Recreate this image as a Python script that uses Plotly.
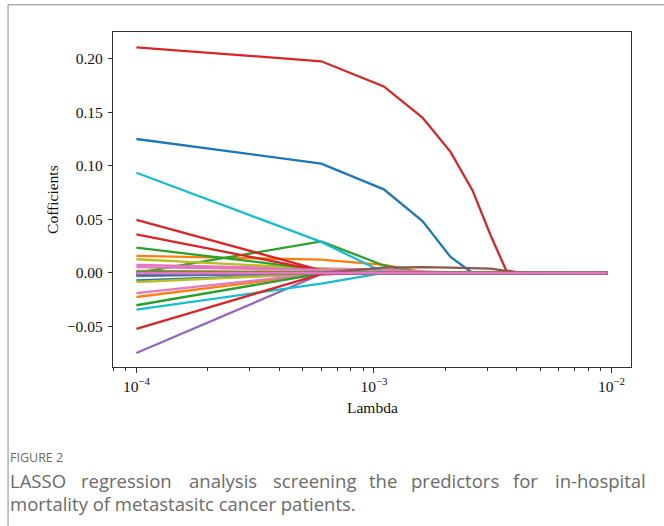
import plotly.graph_objects as go

# ---------------- data ----------------
lambdas = [0.0001, 0.0006, 0.0011, 0.0016, 0.0021, 0.0026, 0.0031, 0.0036, 0.0041, 0.0046,
           0.0051, 0.0056, 0.0061, 0.0066, 0.0071, 0.0076, 0.0081, 0.0086, 0.0091, 0.0096]

f00 = [0.125, 0.102, 0.078, 0.0485, 0.015, 0.0, 0.0, 0.0, 0.0, 0.0, 0.0, 0.0, 0.0, 0.0, 0.0, 0.0, 0.0, 0.0, 0.0, 0.0]
f01 = [0.0159, 0.0125, 0.0075, 0.001, 0.0, 0.0, 0.0, 0.0, 0.0, 0.0, 0.0, 0.0, 0.0, 0.0, 0.0, 0.0, 0.0, 0.0, 0.0, 0.0]
f02 = [0.0, 0.0295, 0.007, 0.0, 0.0, 0.0, 0.0, 0.0, 0.0, 0.0, 0.0, 0.0, 0.0, 0.0, 0.0, 0.0, 0.0, 0.0, 0.0, 0.0]
f03 = [0.2105, 0.1975, 0.174, 0.145, 0.113, 0.077, 0.035, 0.0025, 0.0, 0.0, 0.0, 0.0, 0.0, 0.0, 0.0, 0.0, 0.0, 0.0, 0.0, 0.0]
f04 = [-0.0746, -0.001, 0.0, 0.0, 0.0, 0.0, 0.0, 0.0, 0.0, 0.0, 0.0, 0.0, 0.0, 0.0, 0.0, 0.0, 0.0, 0.0, 0.0, 0.0]
f05 = [0.0005, 0.0, 0.0, 0.0, 0.0, 0.0, 0.0, 0.0, 0.0, 0.0, 0.0, 0.0, 0.0, 0.0, 0.0, 0.0, 0.0, 0.0, 0.0, 0.0]
f06 = [0.0075, 0.0045, 0.003, 0.0015, 0.0005, 0.0, 0.0, 0.0, 0.0, 0.0, 0.0, 0.0, 0.0, 0.0, 0.0, 0.0, 0.0, 0.0, 0.0, 0.0]
f07 = [0.001, 0.0, 0.0, 0.0, 0.0, 0.0, 0.0, 0.0, 0.0, 0.0, 0.0, 0.0, 0.0, 0.0, 0.0, 0.0, 0.0, 0.0, 0.0, 0.0]
f08 = [0.0128, 0.004, 0.0, 0.0, 0.0, 0.0, 0.0, 0.0, 0.0, 0.0, 0.0, 0.0, 0.0, 0.0, 0.0, 0.0, 0.0, 0.0, 0.0, 0.0]
f09 = [0.0935, 0.029, 0.0005, 0.0, 0.0, 0.0, 0.0, 0.0, 0.0, 0.0, 0.0, 0.0, 0.0, 0.0, 0.0, 0.0, 0.0, 0.0, 0.0, 0.0]
f10 = [-0.0068, -0.001, 0.0, 0.0, 0.0, 0.0, 0.0, 0.0, 0.0, 0.0, 0.0, 0.0, 0.0, 0.0, 0.0, 0.0, 0.0, 0.0, 0.0, 0.0]
f11 = [-0.0224, -0.001, 0.0, 0.0, 0.0, 0.0, 0.0, 0.0, 0.0, 0.0, 0.0, 0.0, 0.0, 0.0, 0.0, 0.0, 0.0, 0.0, 0.0, 0.0]
f12 = [0.0237, 0.003, 0.0, 0.0, 0.0, 0.0, 0.0, 0.0, 0.0, 0.0, 0.0, 0.0, 0.0, 0.0, 0.0, 0.0, 0.0, 0.0, 0.0, 0.0]
f13 = [0.0495, 0.0025, 0.0, 0.0, 0.0, 0.0, 0.0, 0.0, 0.0, 0.0, 0.0, 0.0, 0.0, 0.0, 0.0, 0.0, 0.0, 0.0, 0.0, 0.0]
f14 = [-0.001, 0.0, 0.0, 0.0, 0.0, 0.0, 0.0, 0.0, 0.0, 0.0, 0.0, 0.0, 0.0, 0.0, 0.0, 0.0, 0.0, 0.0, 0.0, 0.0]
f15 = [-0.0015, 0.0, 0.0, 0.0, 0.0, 0.0, 0.0, 0.0, 0.0, 0.0, 0.0, 0.0, 0.0, 0.0, 0.0, 0.0, 0.0, 0.0, 0.0, 0.0]
f16 = [-0.0187, -0.0005, 0.0, 0.0, 0.0, 0.0, 0.0, 0.0, 0.0, 0.0, 0.0, 0.0, 0.0, 0.0, 0.0, 0.0, 0.0, 0.0, 0.0, 0.0]
f17 = [-0.003, 0.0, 0.0, 0.0, 0.0, 0.0, 0.0, 0.0, 0.0, 0.0, 0.0, 0.0, 0.0, 0.0, 0.0, 0.0, 0.0, 0.0, 0.0, 0.0]
f18 = [-0.0084, -0.0005, 0.0, 0.0, 0.0, 0.0, 0.0, 0.0, 0.0, 0.0, 0.0, 0.0, 0.0, 0.0, 0.0, 0.0, 0.0, 0.0, 0.0, 0.0]
f19 = [-0.0342, -0.0099, 0.0, 0.0, 0.0, 0.0, 0.0, 0.0, 0.0, 0.0, 0.0, 0.0, 0.0, 0.0, 0.0, 0.0, 0.0, 0.0, 0.0, 0.0]
f20 = [-0.002, 0.0, 0.0, 0.0, 0.0, 0.0, 0.0, 0.0, 0.0, 0.0, 0.0, 0.0, 0.0, 0.0, 0.0, 0.0, 0.0, 0.0, 0.0, 0.0]
f21 = [0.002, 0.001, 0.0, 0.0, 0.0, 0.0, 0.0, 0.0, 0.0, 0.0, 0.0, 0.0, 0.0, 0.0, 0.0, 0.0, 0.0, 0.0, 0.0, 0.0]
f22 = [-0.0301, -0.0005, 0.0, 0.0, 0.0, 0.0, 0.0, 0.0, 0.0, 0.0, 0.0, 0.0, 0.0, 0.0, 0.0, 0.0, 0.0, 0.0, 0.0, 0.0]
f23 = [0.0361, 0.002, 0.0, 0.0, 0.0, 0.0, 0.0, 0.0, 0.0, 0.0, 0.0, 0.0, 0.0, 0.0, 0.0, 0.0, 0.0, 0.0, 0.0, 0.0]
f24 = [0.0005, 0.0, 0.0, 0.0, 0.0, 0.0, 0.0, 0.0, 0.0, 0.0, 0.0, 0.0, 0.0, 0.0, 0.0, 0.0, 0.0, 0.0, 0.0, 0.0]
f25 = [0.0, 0.0, 0.0, 0.0, 0.0, 0.0, 0.0, 0.0, 0.0, 0.0, 0.0, 0.0, 0.0, 0.0, 0.0, 0.0, 0.0, 0.0, 0.0, 0.0]
f26 = [0.0055, 0.003, 0.001, 0.0, 0.0, 0.0, 0.0, 0.0, 0.0, 0.0, 0.0, 0.0, 0.0, 0.0, 0.0, 0.0, 0.0, 0.0, 0.0, 0.0]
f27 = [0.0, 0.0, 0.0, 0.0, 0.0, 0.0, 0.0, 0.0, 0.0, 0.0, 0.0, 0.0, 0.0, 0.0, 0.0, 0.0, 0.0, 0.0, 0.0, 0.0]
f28 = [0.0, 0.0, 0.0, 0.0, 0.0, 0.0, 0.0, 0.0, 0.0, 0.0, 0.0, 0.0, 0.0, 0.0, 0.0, 0.0, 0.0, 0.0, 0.0, 0.0]
f29 = [0.001, 0.0, 0.0, 0.0, 0.0, 0.0, 0.0, 0.0, 0.0, 0.0, 0.0, 0.0, 0.0, 0.0, 0.0, 0.0, 0.0, 0.0, 0.0, 0.0]
f30 = [0.0, 0.0, 0.0, 0.0, 0.0, 0.0, 0.0, 0.0, 0.0, 0.0, 0.0, 0.0, 0.0, 0.0, 0.0, 0.0, 0.0, 0.0, 0.0, 0.0]
f31 = [0.0005, 0.0, 0.0, 0.0, 0.0, 0.0, 0.0, 0.0, 0.0, 0.0, 0.0, 0.0, 0.0, 0.0, 0.0, 0.0, 0.0, 0.0, 0.0, 0.0]
f32 = [0.0012, 0.0, 0.0, 0.0, 0.0, 0.0, 0.0, 0.0, 0.0, 0.0, 0.0, 0.0, 0.0, 0.0, 0.0, 0.0, 0.0, 0.0, 0.0, 0.0]
f33 = [-0.0522, -0.001, 0.0, 0.0, 0.0, 0.0, 0.0, 0.0, 0.0, 0.0, 0.0, 0.0, 0.0, 0.0, 0.0, 0.0, 0.0, 0.0, 0.0, 0.0]
f34 = [-0.0005, 0.0, 0.0, 0.0, 0.0, 0.0, 0.0, 0.0, 0.0, 0.0, 0.0, 0.0, 0.0, 0.0, 0.0, 0.0, 0.0, 0.0, 0.0, 0.0]
f35 = [0.0, 0.0, 0.005, 0.0055, 0.005, 0.0045, 0.004, 0.002, 0.0, 0.0, 0.0, 0.0, 0.0, 0.0, 0.0, 0.0, 0.0, 0.0, 0.0, 0.0]
f36 = [0.0, 0.0, 0.0, 0.0, 0.0, 0.0, 0.0, 0.0, 0.0, 0.0, 0.0, 0.0, 0.0, 0.0, 0.0, 0.0, 0.0, 0.0, 0.0, 0.0]

x_tick_vals = [1e-4, 1e-3, 1e-2]
x_tick_text = ["10<sup>\u22124</sup>", "10<sup>\u22123</sup>", "10<sup>\u22122</sup>"]
x_minor_vals = [8e-5, 9e-5, 2e-4, 3e-4, 4e-4, 5e-4, 6e-4, 7e-4, 8e-4, 9e-4,
                2e-3, 3e-3, 4e-3, 5e-3, 6e-3, 7e-3, 8e-3, 9e-3]
y_tick_vals = [-0.05, 0.0, 0.05, 0.10, 0.15, 0.20]
y_tick_text = ["\u22120.05", "0.00", "0.05", "0.10", "0.15", "0.20"]

caption_words = ["LASSO", "regression", "analysis", "screening", "the", "predictors", "for", "in-hospital"]
caption_line2 = "mortality of metastasitc cancer patients."
figure_label = "FIGURE 2"

# ---------------- styling ----------------
palette = ["#1f77b4", "#ff7f0e", "#2ca02c", "#d62728", "#9467bd",
           "#8c564b", "#e377c2", "#7f7f7f", "#bcbd22", "#17becf"]
paths = [f00, f01, f02, f03, f04, f05, f06, f07, f08, f09,
         f10, f11, f12, f13, f14, f15, f16, f17, f18, f19,
         f20, f21, f22, f23, f24, f25, f26, f27, f28, f29,
         f30, f31, f32, f33, f34, f35, f36]

W, H = 664, 526
L_PX, R_PX, T_PX, B_PX = 113.3, 630.7, 31.7, 366.7


def px(xp):
    return (xp - L_PX) / (R_PX - L_PX)


def py(yp):
    return (B_PX - yp) / (B_PX - T_PX)


fig = go.Figure()
for i, vals in enumerate(paths):
    fig.add_trace(go.Scatter(
        x=lambdas, y=vals, mode="lines",
        line=dict(color=palette[i % 10], width=2.3),
        showlegend=False, hoverinfo="skip"))

serif = "Liberation Serif, Times New Roman, serif"
sans = "Open Sans, sans-serif"
axis_common = dict(showline=True, linecolor="#333333", linewidth=1.3, mirror=True,
                   showgrid=False, zeroline=False, ticks="outside", tickcolor="#333333",
                   tickfont=dict(family=serif, size=15.5, color="#111111"))

fig.update_layout(
    width=W, height=H,
    margin=dict(l=L_PX, r=W - R_PX, t=T_PX, b=H - B_PX, pad=0),
    paper_bgcolor="white", plot_bgcolor="white",
    font=dict(family=serif, size=15, color="#111111"),
    xaxis=dict(type="log", range=[-4.0985, -1.918],
               tickmode="array", tickvals=x_tick_vals, ticktext=x_tick_text,
               ticklen=5, tickwidth=1.2,
               minor=dict(tickmode="array", tickvals=x_minor_vals, ticks="outside",
                          ticklen=3, tickwidth=1, tickcolor="#333333"),
               **axis_common),
    yaxis=dict(range=[-0.0877, 0.2248], tickmode="array",
               tickvals=y_tick_vals, ticktext=y_tick_text,
               ticklen=4, tickwidth=1.2, ticklabelstandoff=2, **axis_common),
)

annotations = [
    dict(text="Lambda", x=0.5, y=py(407), xref="paper", yref="paper",
         showarrow=False, xanchor="center", yanchor="middle",
         font=dict(family=serif, size=15.5, color="#111111")),
    dict(text="Cofficients", x=px(53), y=py(199), xref="paper", yref="paper",
         showarrow=False, xanchor="center", yanchor="middle", textangle=-90,
         font=dict(family=serif, size=15.5, color="#111111")),
    dict(text=figure_label, x=px(8), y=py(457), xref="paper", yref="paper",
         showarrow=False, xanchor="left", yanchor="middle",
         font=dict(family=sans, size=12.5, color="#6a6a6a")),
    dict(text=caption_line2, x=px(8), y=py(503), xref="paper", yref="paper",
         showarrow=False, xanchor="left", yanchor="middle",
         font=dict(family=sans, size=18.5, color="#6a6a6a")),
]
word_left = [8, 79, 187, 271, 367, 409, 511, 553]
for w, xl in zip(caption_words, word_left):
    annotations.append(dict(text=w, x=px(xl), y=py(480), xref="paper", yref="paper",
                            showarrow=False, xanchor="left", yanchor="middle",
                            font=dict(family=sans, size=18.5, color="#6a6a6a")))
fig.update_layout(annotations=annotations)

# card border (top and left edges)
fig.add_shape(type="line", xref="paper", yref="paper",
              x0=px(8.5), x1=px(664), y0=py(4.5), y1=py(4.5),
              line=dict(color="#b0b0b0", width=1.5))
fig.add_shape(type="line", xref="paper", yref="paper",
              x0=px(8.5), x1=px(8.5), y0=py(4.5), y1=py(526),
              line=dict(color="#b0b0b0", width=1.5))

fig.write_html("out.html",
               config={"displayModeBar": False},
               post_script="document.body.style.margin='0px';document.body.style.overflow='hidden';")
